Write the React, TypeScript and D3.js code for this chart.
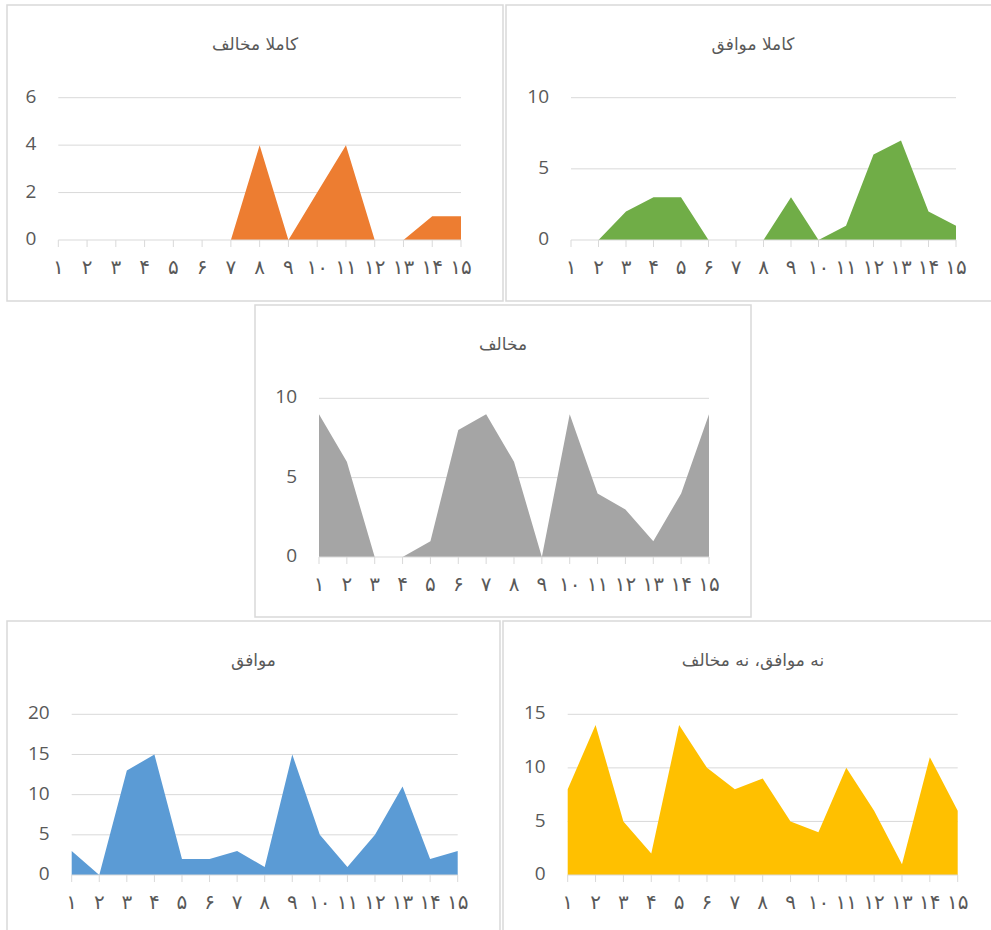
import React from "react";
import * as d3 from "d3";

const categories = ["۱","۲","۳","۴","۵","۶","۷","۸","۹","۱۰","۱۱","۱۲","۱۳","۱۴","۱۵"];

const kamelanMokhalef = [0,0,0,0,0,0,0,4,0,2,4,0,0,1,1];
const kamelanMovafegh = [0,0,2,3,3,0,0,0,3,0,1,6,7,2,1];
const mokhalef = [9,6,0,0,1,8,9,6,0,9,4,3,1,4,9];
const movafegh = [3,0,13,15,2,2,3,1,15,5,1,5,11,2,3];
const naMovafeghNaMokhalef = [8,14,5,2,14,10,8,9,5,4,10,6,1,11,6];

const ticks1 = [0,2,4,6];
const ticks2 = [0,5,10];
const ticks3 = [0,5,10];
const ticks4 = [0,5,10,15,20];
const ticks5 = [0,5,10,15];

type Panel = {
  title: string;
  values: number[];
  ticks: number[];
  color: string;
  frame: [number, number, number, number];
  plot: [number, number, number, number]; // left, right, top(y of max tick), bottom(y of 0)
};

const panels: Panel[] = [
  { title: "کاملا مخالف", values: kamelanMokhalef, ticks: ticks1, color: "#ED7D31",
    frame: [7, 5, 503, 301], plot: [58.3, 461, 97.7, 240] },
  { title: "کاملا موافق", values: kamelanMovafegh, ticks: ticks2, color: "#70AD47",
    frame: [506, 5, 1000, 301], plot: [571, 956, 97.7, 240] },
  { title: "مخالف", values: mokhalef, ticks: ticks3, color: "#A5A5A5",
    frame: [255, 305, 751, 617], plot: [319, 709, 398.3, 557] },
  { title: "موافق", values: movafegh, ticks: ticks4, color: "#5B9BD5",
    frame: [7, 621, 500, 945], plot: [71.7, 457.7, 714.3, 875] },
  { title: "نه موافق، نه مخالف", values: naMovafeghNaMokhalef, ticks: ticks5, color: "#FFC000",
    frame: [503, 621, 1003, 945], plot: [567.7, 957.7, 714.3, 875] },
];

const GRID = "#D9D9D9";
const TEXT = "#595959";

function ChartPanel({ p }: { p: Panel }) {
  const [l, r, t, b] = p.plot;
  const x = d3.scalePoint<string>().domain(categories).range([l, r]);
  const maxTick = p.ticks[p.ticks.length - 1];
  const y = d3.scaleLinear().domain([0, maxTick]).range([b, t]);
  const data = p.values.map((v, i) => ({ c: categories[i], v }));
  const area = d3.area<{ c: string; v: number }>()
    .x((d) => x(d.c) as number)
    .y0(y(0))
    .y1((d) => y(d.v));
  const [fx0, fy0, fx1, fy1] = p.frame;
  return (
    <g>
      <rect x={fx0} y={fy0} width={fx1 - fx0} height={fy1 - fy0} fill="#fff" stroke={GRID} strokeWidth={1.5} />
      <text x={(fx0 + fx1) / 2} y={fy0 + 40} textAnchor="middle" dominantBaseline="middle"
        fontFamily="'DejaVu Sans', sans-serif" fontSize={17} fill={TEXT}>{p.title}</text>
      {p.ticks.map((tk) => (
        <g key={tk}>
          {tk !== 0 && <line x1={l} x2={r} y1={y(tk)} y2={y(tk)} stroke={GRID} strokeWidth={1} />}
          <text x={l - 22} y={y(tk)} textAnchor="end" dominantBaseline="middle"
            fontFamily="'Open Sans', sans-serif" fontSize={19} fill={TEXT}>{tk}</text>
        </g>
      ))}
      <path d={area(data) ?? ""} fill={p.color} />
      <line x1={l} x2={r} y1={y(0)} y2={y(0)} stroke={GRID} strokeWidth={1} />
      {categories.map((c) => (
        <g key={c}>
          <line x1={x(c)} x2={x(c)} y1={y(0)} y2={y(0) + 7} stroke={GRID} strokeWidth={1} />
          <text x={x(c)} y={y(0) + 28} textAnchor="middle" dominantBaseline="middle"
            fontFamily="'DejaVu Sans', sans-serif" fontSize={20} fill={TEXT}>{c}</text>
        </g>
      ))}
    </g>
  );
}

export default function App() {
  return (
    <svg width={991} height={930} style={{ position: "absolute", left: 0, top: 0, background: "#fff" }}>
      <rect x={0} y={0} width={991} height={930} fill="#fff" />
      {panels.map((p) => <ChartPanel key={p.title} p={p} />)}
    </svg>
  );
}
